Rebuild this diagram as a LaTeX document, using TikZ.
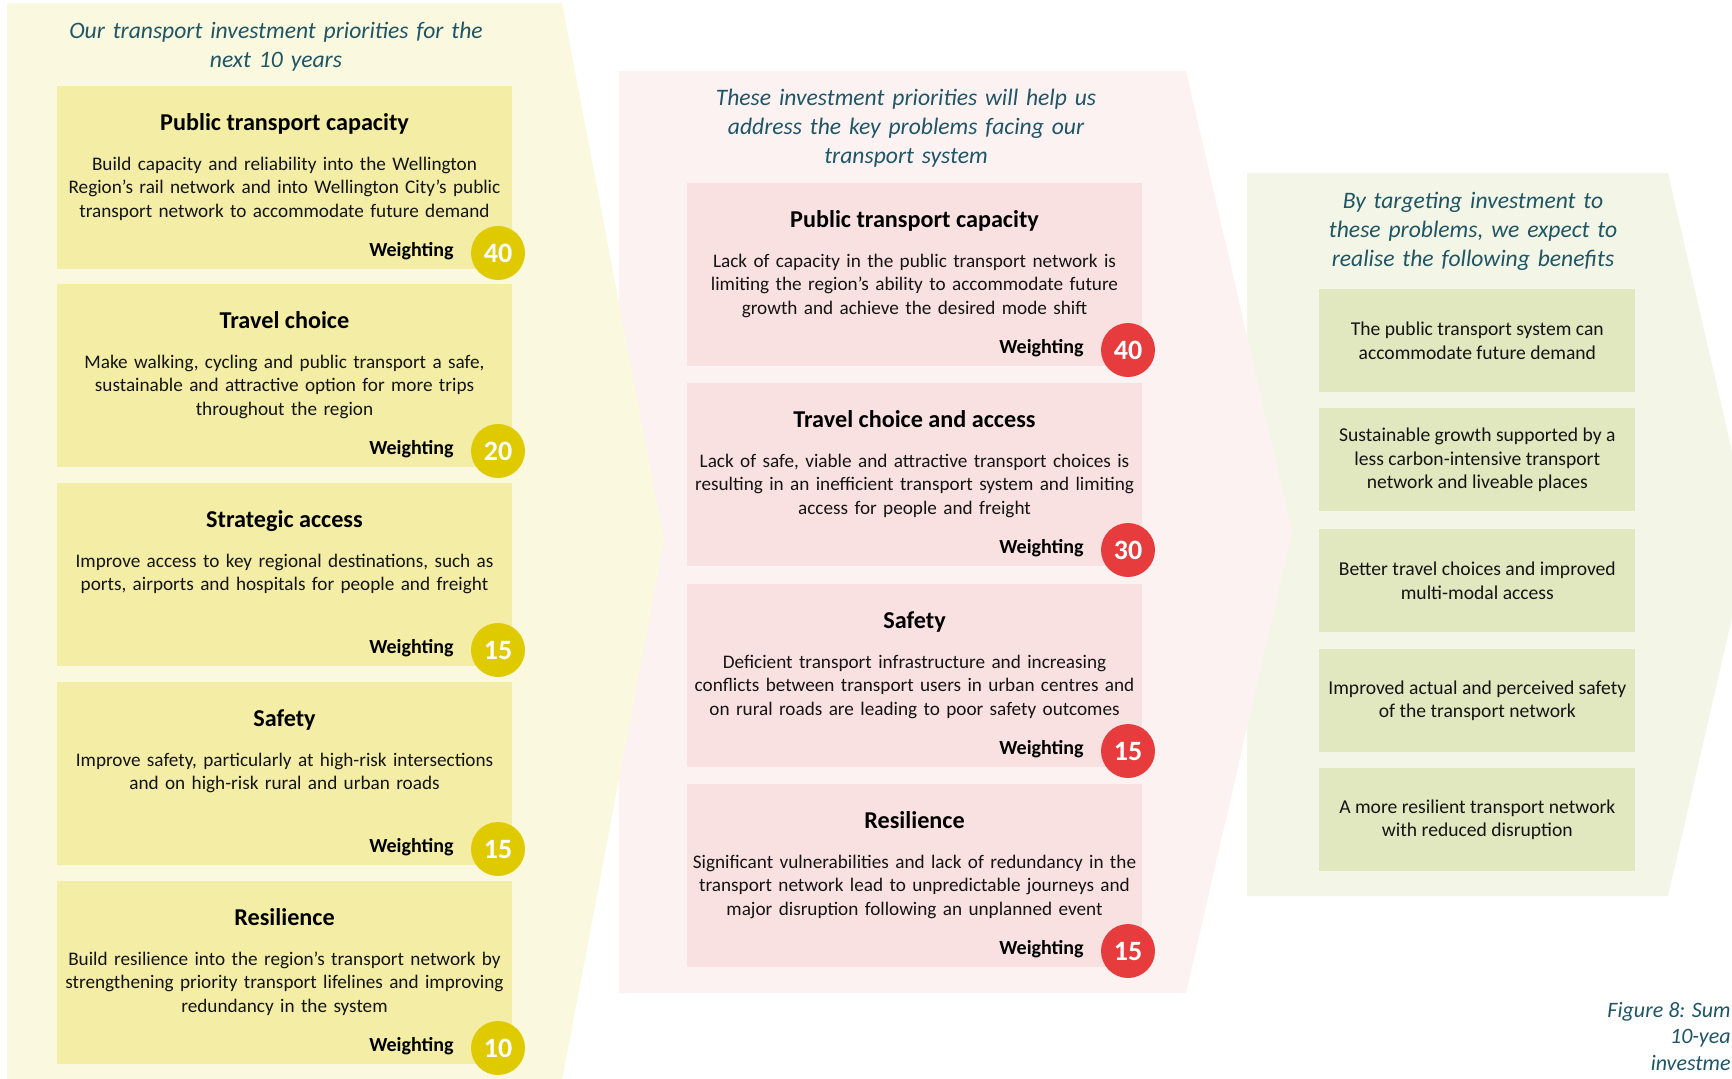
\documentclass[tikz,border=0pt]{standalone}
\usepackage{fontspec}
\setmainfont{Carlito}
\definecolor{yOuter}{HTML}{FAF8DF}
\definecolor{yBox}{HTML}{F3EDA5}
\definecolor{yCirc}{HTML}{DFCA00}
\definecolor{pOuter}{HTML}{FDF2F2}
\definecolor{pBox}{HTML}{F9E1E1}
\definecolor{pCirc}{HTML}{E73C3E}
\definecolor{gOuter}{HTML}{F3F6E6}
\definecolor{gBox}{HTML}{E1E7BE}
\definecolor{headc}{HTML}{1F5565}
\definecolor{bodyc}{HTML}{141414}
\newcommand\PBox[8]{%
  \node[pbox, fill=#4] (#1) at (#2,#3) {};
  \node[ttl] (#1-t) at (#2+227.5,#3+44) {#6};
  \node[bdy] (#1-b) at (#2+227.5,#3+84) {#7};
  \node[wt] (#1-w) at (#2+397,#3+170) {Weighting};
  \node[num, fill=#5] (#1-n) at (#2+441,#3+167) {#8};
}
\begin{document}
\begin{tikzpicture}[x=0.5pt,y=-0.5pt,
  hd/.style={text=headc, font=\fontsize{11.8pt}{14.5pt}\selectfont\itshape, align=center, text width=260pt, anchor=base, inner sep=0pt},
  ttl/.style={text=black, font=\fontsize{12.1pt}{14pt}\selectfont\bfseries, anchor=base, inner sep=0pt},
  bdy/.style={text=bodyc, font=\fontsize{9.6pt}{11.75pt}\selectfont, align=center, text width=227pt, anchor=base, inner sep=0pt},
  wt/.style={text=black, font=\fontsize{10pt}{12pt}\selectfont\bfseries, anchor=base east, inner sep=0pt},
  num/.style={circle, minimum size=27pt, inner sep=0pt, text=white, font=\fontsize{14pt}{16pt}\selectfont\bfseries},
  pbox/.style={minimum width=227.5pt, minimum height=91.5pt, anchor=north west, inner sep=0pt},
  rbox/.style={fill=gBox, minimum width=157.9pt, minimum height=51.5pt, anchor=north west, inner sep=0pt, align=center, text=bodyc, font=\fontsize{9.8pt}{11.75pt}\selectfont},
  figcap/.style={text=headc, font=\fontsize{11pt}{13pt}\selectfont\itshape, anchor=base east, inner sep=0pt}
]
\clip (0,0) rectangle (1732,1078);
\fill[white] (0,0) rectangle (1732,1078);
% panels (chevrons)
\fill[gOuter] (1247,173) -- (1668,173) -- (1751,534.5) -- (1668,896) -- (1247,896) -- cycle;
\fill[pOuter] (619,71) -- (1186,71) -- (1292,532) -- (1186,993) -- (619,993) -- cycle;
\fill[yOuter] (7,3) -- (562,3) -- (664,541) -- (562,1080) -- (7,1080) -- cycle;
% headings
\node[hd] (hL) at (276,38) {Our transport investment priorities for the\\next 10 years};
\node[hd] (hM) at (906,105) {These investment priorities will help us\\address the key problems facing our\\transport system};
\node[hd] (hR) at (1473,208) {By targeting investment to\\these problems, we expect to\\realise the following benefits};
% left column
\PBox{L1}{57}{86}{yBox}{yCirc}{Public transport capacity}{Build capacity and reliability into the Wellington\\Region’s rail network and into Wellington City’s public\\transport network to accommodate future demand}{40}
\PBox{L2}{57}{284}{yBox}{yCirc}{Travel choice}{Make walking, cycling and public transport a safe,\\sustainable and attractive option for more trips\\throughout the region}{20}
\PBox{L3}{57}{483}{yBox}{yCirc}{Strategic access}{Improve access to key regional destinations, such as\\ports, airports and hospitals for people and freight}{15}
\PBox{L4}{57}{682}{yBox}{yCirc}{Safety}{Improve safety, particularly at high-risk intersections\\and on high-risk rural and urban roads}{15}
\PBox{L5}{57}{881}{yBox}{yCirc}{Resilience}{Build resilience into the region’s transport network by\\strengthening priority transport lifelines and improving\\redundancy in the system}{10}
% middle column
\PBox{M1}{687}{183}{pBox}{pCirc}{Public transport capacity}{Lack of capacity in the public transport network is\\limiting the region’s ability to accommodate future\\growth and achieve the desired mode shift}{40}
\PBox{M2}{687}{383}{pBox}{pCirc}{Travel choice and access}{Lack of safe, viable and attractive transport choices is\\resulting in an inefficient transport system and limiting\\access for people and freight}{30}
\PBox{M3}{687}{584}{pBox}{pCirc}{Safety}{Deficient transport infrastructure and increasing\\conflicts between transport users in urban centres and\\on rural roads are leading to poor safety outcomes}{15}
\PBox{M4}{687}{784}{pBox}{pCirc}{Resilience}{Significant vulnerabilities and lack of redundancy in the\\transport network lead to unpredictable journeys and\\major disruption following an unplanned event}{15}
% right column
\node[rbox] (R1) at (1319,289) {The public transport system can\\accommodate future demand};
\node[rbox] (R2) at (1319,408) {Sustainable growth supported by a\\less carbon-intensive transport\\network and liveable places};
\node[rbox] (R3) at (1319,529) {Better travel choices and improved\\multi-modal access};
\node[rbox] (R4) at (1319,649) {Improved actual and perceived safety\\of the transport network};
\node[rbox] (R5) at (1319,768) {A more resilient transport network\\with reduced disruption};
% caption (as far as the reference shows it)
\node[figcap] (c1) at (1731,1017) {Figure 8: Sum};
\node[figcap] (c2) at (1731,1043) {10-yea};
\node[figcap] (c3) at (1731,1070) {investme};
\end{tikzpicture}
\end{document}
